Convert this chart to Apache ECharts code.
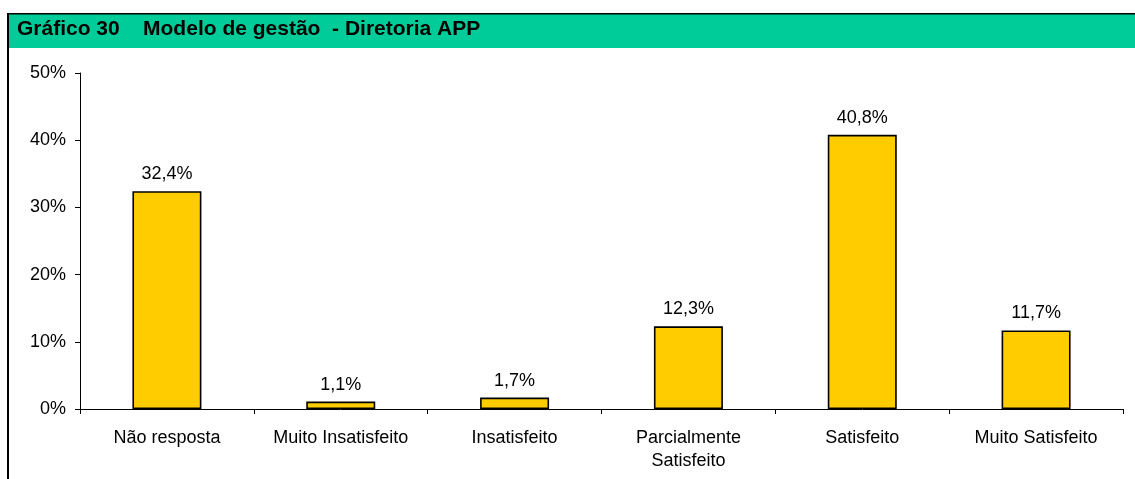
<!DOCTYPE html>
<html>
<head>
<meta charset="utf-8">
<style>
  html, body { margin: 0; padding: 0; background: #fff; }
  #chart { width: 1135px; height: 479px; }
</style>
<script src="https://cdn.jsdelivr.net/npm/echarts@6/dist/echarts.min.js"></script>
</head>
<body>
<div id="chart"></div>
<script>
const categories = ['Não resposta', 'Muito Insatisfeito', 'Insatisfeito', 'Parcialmente\nSatisfeito', 'Satisfeito', 'Muito Satisfeito'];
const values = [32.4, 1.1, 1.7, 12.3, 40.8, 11.7];
const titleText = 'Gráfico 30    Modelo de gestão  - Diretoria APP';

const chart = echarts.init(document.getElementById('chart'));

const fmt = (v) => v.toFixed(1).replace('.', ',') + '%';

chart.setOption({
  animation: false,
  textStyle: { fontFamily: 'Liberation Sans, Arial, sans-serif' },
  graphic: [
    // green title band
    { type: 'rect', shape: { x: 8, y: 14, width: 1127, height: 34 }, style: { fill: '#00CC99' }, z: 1 },
    // top and left frame lines
    { type: 'rect', shape: { x: 8, y: 13, width: 1127, height: 1.5 }, style: { fill: '#000' }, z: 2 },
    { type: 'rect', shape: { x: 7, y: 13, width: 2, height: 466 }, style: { fill: '#000' }, z: 2 },
    {
      type: 'text', left: 17, top: 19, z: 3,
      style: { text: titleText, fill: '#000', font: 'bold 21px "Liberation Sans", Arial, sans-serif' }
    }
  ],
  grid: { left: 80, right: 12, top: 73, bottom: 70 },
  xAxis: {
    type: 'category',
    data: categories,
    axisLine: { lineStyle: { color: '#000', width: 1 } },
    axisTick: { show: true, alignWithLabel: false, length: 5, lineStyle: { color: '#000' } },
    axisLabel: { color: '#000', fontSize: 18, margin: 18, lineHeight: 23, interval: 0 }
  },
  yAxis: {
    type: 'value',
    min: 0, max: 50, interval: 10,
    splitLine: { show: false },
    axisLine: { show: true, lineStyle: { color: '#000', width: 1 } },
    axisTick: { show: true, length: 5, lineStyle: { color: '#000' } },
    axisLabel: { color: '#000', fontSize: 18, margin: 14, formatter: '{value}%' }
  },
  series: [{
    type: 'bar',
    data: values,
    barWidth: 69,
    itemStyle: { color: '#FFCC00', borderColor: '#000', borderWidth: 1.6 },
    label: {
      show: true, position: 'top', distance: 8,
      color: '#000', fontSize: 18,
      formatter: (p) => fmt(p.value)
    }
  }]
});
</script>
</body>
</html>
